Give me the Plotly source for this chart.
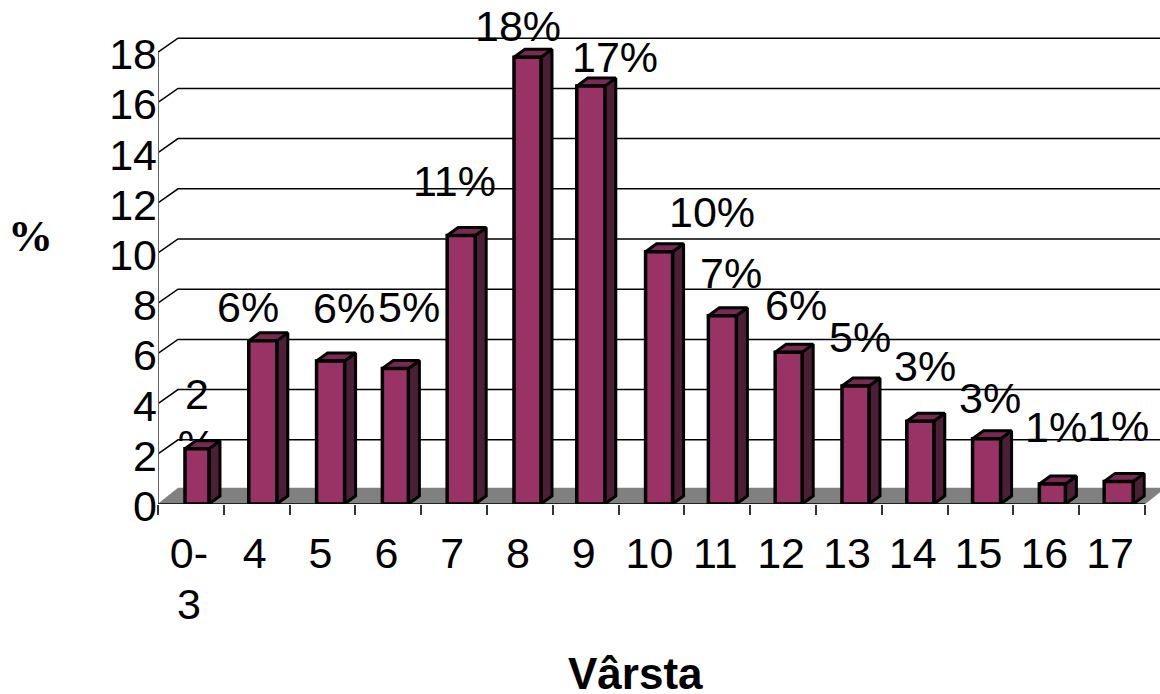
import plotly.graph_objects as go

CATEGORIES = ["0-<br>3", "4", "5", "6", "7", "8", "9", "10", "11", "12", "13", "14", "15", "16", "17"]
VALUES = [2.2, 6.5, 5.7, 5.4, 10.7, 17.8, 16.65, 10.05, 7.5, 6.05, 4.7, 3.3, 2.6, 0.8, 0.9]
LABELS = ["2<br>%", "6%", "6%", "5%", "11%", "18%", "17%", "10%", "7%", "6%", "5%", "3%", "3%", "1%", "1%"]
Y_TICKS = list(range(0, 19, 2))

# label nudges in pixels, relative to the top of each bar's category centre
LABEL_DX = [6, -9, 21, 21, 0, -2, 29, 60, 14, 13, 11, 10, 9, 10, 6]
LABEL_DY = [0, 34, 53, 61, 54, 31, 29, 40, 43, 47, 49, 55, 41, 57, 55]
# small per-bar placement differences seen in the reference, in pixels
BAR_NUDGE = [0, -2, 0, 0, -1, 0, -3, 0, -3, -2, -1, -2, -2, -1, -2]
BAR_WIDTH = [24, 28, 28, 26, 28, 27, 28, 27, 28, 27, 27, 27, 28, 26, 29]

W, H = 1160, 694
X0, Y0 = 158, 504
CAT_W = 65.8
UNIT = 25.1
XMAX = (W - X0) / CAT_W
YMAX = Y0 / UNIT
BACK_DX, FLOOR_DY, GRID_DY = 20 / CAT_W, 16 / UNIT, 14 / UNIT
DEPTH_X, DEPTH_Y = 11 / CAT_W, 8 / UNIT
BAR_LEFT = 0.41

FRONT, TOP, SIDE, FLOOR = "#993366", "#7a2952", "#4d1f36", "#808080"
FONT = "Liberation Sans"
SIZE = 43

fig = go.Figure()


def poly(xs, ys, fill, line="black", width=3):
    fig.add_trace(go.Scatter(x=xs, y=ys, mode="lines", fill="toself", fillcolor=fill,
                             line=dict(color=line, width=width), hoverinfo="skip", showlegend=False))


def line(xs, ys, color="black", width=1.5):
    fig.add_trace(go.Scatter(x=xs, y=ys, mode="lines", line=dict(color=color, width=width),
                             hoverinfo="skip", showlegend=False))


n = len(VALUES)
# floor
poly([0, n, n + BACK_DX, BACK_DX, 0], [0, 0, FLOOR_DY, FLOOR_DY, 0], FLOOR, line=FLOOR, width=0.5)
# back wall gridlines
for v in Y_TICKS[1:]:
    line([0, BACK_DX, XMAX + 1], [v, v + GRID_DY, v + GRID_DY])
line([0, 0], [0, 18], color="#666666", width=2)
line([0, n], [0, 0], color="#222222", width=2)

# side and top faces, then front faces
for i, v in enumerate(VALUES):
    l = i + BAR_LEFT + BAR_NUDGE[i] / CAT_W
    r = l + BAR_WIDTH[i] / CAT_W
    poly([r, r + DEPTH_X, r + DEPTH_X, r, r], [0, DEPTH_Y, v + DEPTH_Y, v, 0], SIDE)
    poly([l, r, r + DEPTH_X, l + DEPTH_X, l], [v, v, v + DEPTH_Y, v + DEPTH_Y, v], TOP)
    poly([l, r, r, l, l], [0, 0, v, v, 0], FRONT, width=3.5)

# the clipped "2 %" label sits in its own shorter subplot, one point per line
CLIP_BOTTOM = (Y0 - 441) / UNIT
first_lines = LABELS[0].split("<br>")
label_x = 0.5 + LABEL_DX[0] / CAT_W
fig.add_trace(go.Scatter(x=[label_x, label_x], y=[VALUES[0] + 2.0, VALUES[0] + 2.0 - 51 / UNIT],
                         xaxis="x2", yaxis="y2", mode="text",
                         text=first_lines, textposition="middle center", cliponaxis=True,
                         textfont=dict(family=FONT, size=SIZE, color="black"),
                         hoverinfo="skip", showlegend=False))

for i, (txt, v) in enumerate(zip(LABELS, VALUES)):
    if i == 0:
        continue
    fig.add_annotation(x=i + 0.5, y=v, xref="x", yref="y", text=txt, showarrow=False,
                       xshift=LABEL_DX[i], yshift=LABEL_DY[i],
                       font=dict(family=FONT, size=SIZE, color="black"))

tick_text = [c.split("<br>")[0] for c in CATEGORIES]
PW, PH = W - X0, Y0
fig.add_annotation(x=0.47, y=(Y0 - 604) / PH, xref="x", yref="paper", text=CATEGORIES[0].split("<br>")[1],
                   xanchor="center", yanchor="middle", showarrow=False,
                   font=dict(family=FONT, size=SIZE, color="black"))
fig.add_annotation(x=(30.5 - X0) / PW, y=(Y0 - 236) / PH, xref="paper", yref="paper", text="<b>%</b>",
                   xanchor="center", yanchor="middle", showarrow=False,
                   font=dict(family="Liberation Serif", size=45, color="black"))
fig.add_annotation(x=(635 - X0) / PW, y=(Y0 - 673) / PH, xref="paper", yref="paper", text="<b>Vârsta</b>",
                   xanchor="center", yanchor="middle", showarrow=False,
                   font=dict(family=FONT, size=44, color="black"))

fig.update_layout(
    width=W, height=H, autosize=False, paper_bgcolor="white", plot_bgcolor="rgba(0,0,0,0)",
    margin=dict(l=X0, r=0, t=0, b=H - Y0, pad=0), showlegend=False,
    xaxis=dict(range=[0, XMAX], tickmode="array", tickvals=[i + 0.47 for i in range(n)], ticktext=tick_text,
               ticks="", showgrid=False, zeroline=False, showline=False,
               tickfont=dict(family=FONT, size=SIZE, color="black"), ticklabelstandoff=20,
               minor=dict(tickmode="array", tickvals=list(range(n + 1)), ticks="outside", ticklen=10,
                          tickcolor="#333333", tickwidth=1.5, showgrid=False)),
    yaxis=dict(range=[0, YMAX], tickmode="array", tickvals=Y_TICKS, ticks="", showgrid=False, ticklabelshift=2,
               zeroline=False, showline=False, tickfont=dict(family=FONT, size=SIZE, color="black")),
    xaxis2=dict(range=[0, XMAX], anchor="y2", visible=False),
    yaxis2=dict(range=[CLIP_BOTTOM, YMAX], domain=[(Y0 - 441) / Y0, 1], anchor="x2", visible=False),
)

fig.write_html("out.html", config={"displayModeBar": False}, post_script="document.body.style.margin='0';")
